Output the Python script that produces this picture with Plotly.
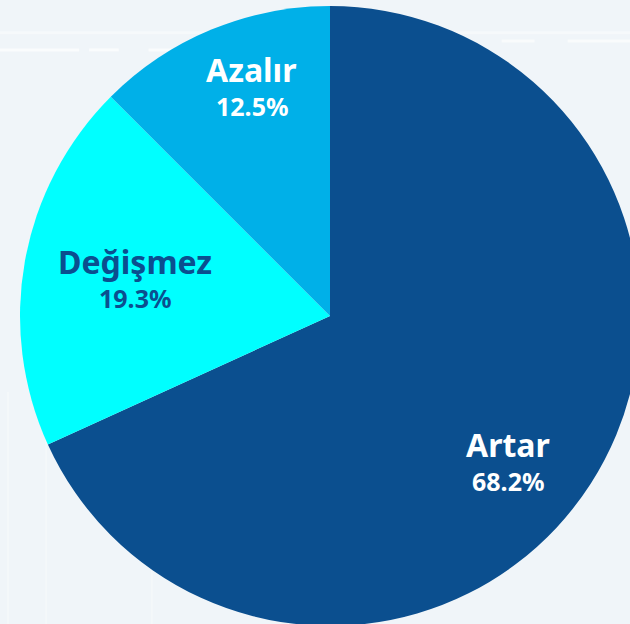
import math
import plotly.graph_objects as go

labels = ["Artar", "Değişmez", "Azalır"]
values = [68.2, 19.3, 12.5]
colors = ["#0b4f8f", "#00ffff", "#00b0e8"]
text_colors = ["white", "#0b4f8f", "white"]

# label placement: fraction of radius and small angle nudge (degrees)
label_r = [0.745, 0.64, 0.775]
label_nudge = [7, 0, 3.5]

W, H = 660, 632
R = 310

fig = go.Figure(go.Pie(
    labels=labels,
    values=values,
    sort=False,
    direction="clockwise",
    rotation=0,
    marker=dict(colors=colors, line=dict(width=0)),
    textinfo="none",
    hoverinfo="label+percent",
    showlegend=False,
    domain=dict(x=[0, 1], y=[6 / H, 1 - 6 / H]),
))

annotations = []
total = sum(values)
cum = 0
for lab, v, tc, rf, nd in zip(labels, values, text_colors, label_r, label_nudge):
    mid = (cum + v / 2) / total * 360 + nd
    cum += v
    px = 0.5 + rf * R * math.sin(math.radians(mid)) / W
    py = 0.5 + rf * R * math.cos(math.radians(mid)) / H
    annotations.append(dict(x=px, y=py, xref="paper", yref="paper", showarrow=False,
                            xanchor="center", yanchor="middle",
                            text="<b>%s</b>" % lab, yshift=19,
                            font=dict(family="Noto Sans", size=32, color=tc)))
    annotations.append(dict(x=px, y=py, xref="paper", yref="paper", showarrow=False,
                            xanchor="center", yanchor="middle",
                            text="<b>%.1f%%</b>" % v, yshift=-17,
                            font=dict(family="Noto Sans", size=25, color=tc)))

# faint background lines
bg_lines = [
    (0.0, 1.0, 0.948, 3, 0.4),
    (0.0, 0.12, 0.921, 3, 0.7),
    (0.135, 0.18, 0.921, 3, 0.7),
    (0.225, 0.5, 0.921, 3, 0.7),
    (0.76, 0.81, 0.935, 3, 0.6),
    (0.86, 1.0, 0.935, 3, 0.6),
]
shapes = []
for x0, x1, y, w, op in bg_lines:
    shapes.append(dict(type="line", xref="paper", yref="paper", layer="below",
                       x0=x0, x1=x1, y0=y, y1=y,
                       line=dict(color="white", width=w), opacity=op))
for x in [0.012, 0.07, 0.23]:
    shapes.append(dict(type="line", xref="paper", yref="paper", layer="below",
                       x0=x, x1=x, y0=0, y1=0.38,
                       line=dict(color="white", width=2), opacity=0.3))

fig.update_layout(
    width=W,
    height=H,
    margin=dict(l=0, r=0, t=0, b=0),
    paper_bgcolor="#f0f5f9",
    plot_bgcolor="#f0f5f9",
    shapes=shapes,
    annotations=annotations,
    font=dict(family="Noto Sans"),
)

fig.write_html("out.html", config={"displayModeBar": False},
               post_script="document.body.style.margin='0';document.body.style.overflow='hidden';document.documentElement.style.overflow='hidden';")
